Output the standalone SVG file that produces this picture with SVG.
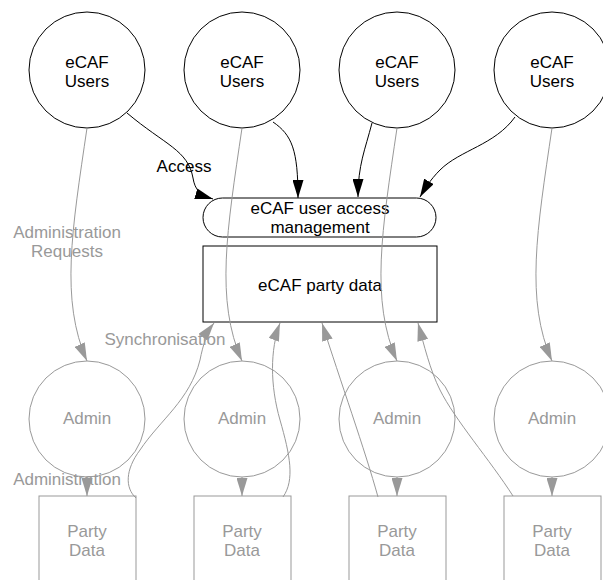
<svg xmlns="http://www.w3.org/2000/svg" width="603" height="580" viewBox="0 0 603 580">
<style>
text{font-family:"Liberation Sans",Arial,sans-serif;font-size:17px;text-anchor:middle}
.k{fill:#fff;stroke:#000;stroke-width:1}
.g{fill:#fff;stroke:#999;stroke-width:1}
.t{fill:#000}
.tg{fill:#999}
.ck{fill:none;stroke:#000;stroke-width:1}
.cg{fill:none;stroke:#999;stroke-width:1}
</style>
<defs>
<marker id="ak" viewBox="0 0 18 11" refX="18" refY="5.5" markerWidth="18" markerHeight="11" markerUnits="userSpaceOnUse" orient="auto"><path d="M0,0L18,5.5L0,11z" fill="#000"/></marker>
<marker id="ag" viewBox="0 0 18 11" refX="18" refY="5.5" markerWidth="18" markerHeight="11" markerUnits="userSpaceOnUse" orient="auto"><path d="M0,0L18,5.5L0,11z" fill="#999"/></marker>
</defs>
<rect width="603" height="580" fill="#fff"/>
<g id="user1"><circle class="k" cx="87" cy="70" r="58"/><text class="t" x="87" y="68">eCAF</text><text class="t" x="87" y="87">Users</text></g>
<g id="user2"><circle class="k" cx="242" cy="70" r="58"/><text class="t" x="242" y="68">eCAF</text><text class="t" x="242" y="87">Users</text></g>
<g id="user3"><circle class="k" cx="397" cy="70" r="58"/><text class="t" x="397" y="68">eCAF</text><text class="t" x="397" y="87">Users</text></g>
<g id="user4"><circle class="k" cx="552" cy="70" r="58"/><text class="t" x="552" y="68">eCAF</text><text class="t" x="552" y="87">Users</text></g>
<g id="access"><rect class="k" x="203" y="198" width="233" height="39" rx="19.5"/><text class="t" x="320" y="214">eCAF user access</text><text class="t" x="320" y="233">management</text></g>
<g id="partydata"><rect class="k" x="203" y="246" width="234" height="76"/><text class="t" x="320" y="291">eCAF party data</text></g>
<g id="admin1"><circle class="g" cx="87" cy="419" r="58"/><text class="tg" x="87" y="424">Admin</text></g>
<g id="admin2"><circle class="g" cx="242" cy="419" r="58"/><text class="tg" x="242" y="424">Admin</text></g>
<g id="admin3"><circle class="g" cx="397" cy="419" r="58"/><text class="tg" x="397" y="424">Admin</text></g>
<g id="admin4"><circle class="g" cx="552" cy="419" r="58"/><text class="tg" x="552" y="424">Admin</text></g>
<g id="pd1"><rect class="g" x="39" y="496" width="97" height="110"/><text class="tg" x="87" y="537">Party</text><text class="tg" x="87" y="556">Data</text></g>
<g id="pd2"><rect class="g" x="194" y="496" width="97" height="110"/><text class="tg" x="242" y="537">Party</text><text class="tg" x="242" y="556">Data</text></g>
<g id="pd3"><rect class="g" x="349" y="496" width="97" height="110"/><text class="tg" x="397" y="537">Party</text><text class="tg" x="397" y="556">Data</text></g>
<g id="pd4"><rect class="g" x="504" y="496" width="97" height="110"/><text class="tg" x="552" y="537">Party</text><text class="tg" x="552" y="556">Data</text></g>
<g id="connectors">
<path class="ck" marker-end="url(#ak)" d="M127,113 C165,145 188,150 193,178 C195,190 200,195 213,199"/>
<path class="ck" marker-end="url(#ak)" d="M273,122 C292,135 298,150 298,198"/>
<path class="ck" marker-end="url(#ak)" d="M372,123 C365,150 358,165 358,197"/>
<path class="ck" marker-end="url(#ak)" d="M515,117 C495,145 460,150 440,170 C430,180 424,190 420,197"/>
<path class="cg" marker-end="url(#ag)" d="M87,128 C72,230 60,300 87,361"/>
<path class="cg" marker-end="url(#ag)" d="M242,128 C227,230 215,300 242,361"/>
<path class="cg" marker-end="url(#ag)" d="M397,128 C382,230 370,300 397,361"/>
<path class="cg" marker-end="url(#ag)" d="M552,128 C537,230 525,300 552,361"/>
<path class="cg" marker-end="url(#ag)" d="M87,477 L87,496"/>
<path class="cg" marker-end="url(#ag)" d="M242,477 L242,496"/>
<path class="cg" marker-end="url(#ag)" d="M397,477 L397,496"/>
<path class="cg" marker-end="url(#ag)" d="M552,477 L552,496"/>
<path class="cg" marker-end="url(#ag)" d="M136,498 C125,488 125,470 140,450 C160,420 190,400 200,360 C203,345 207,332 214,323"/>
<path class="cg" marker-end="url(#ag)" d="M283,497 C295,480 290,455 280,420 C270,385 270,350 280,323"/>
<path class="cg" marker-end="url(#ag)" d="M378,497 C365,450 340,380 322,323"/>
<path class="cg" marker-end="url(#ag)" d="M513,496 C490,460 455,420 440,390 C430,370 424,345 418,323"/>
<text class="t" x="184" y="172">Access</text>
<text class="tg" x="67" y="238">Administration</text>
<text class="tg" x="67" y="257">Requests</text>
<text class="tg" x="165" y="345">Synchronisation</text>
<text class="tg" x="67" y="485">Administration</text>
</g>
</svg>
